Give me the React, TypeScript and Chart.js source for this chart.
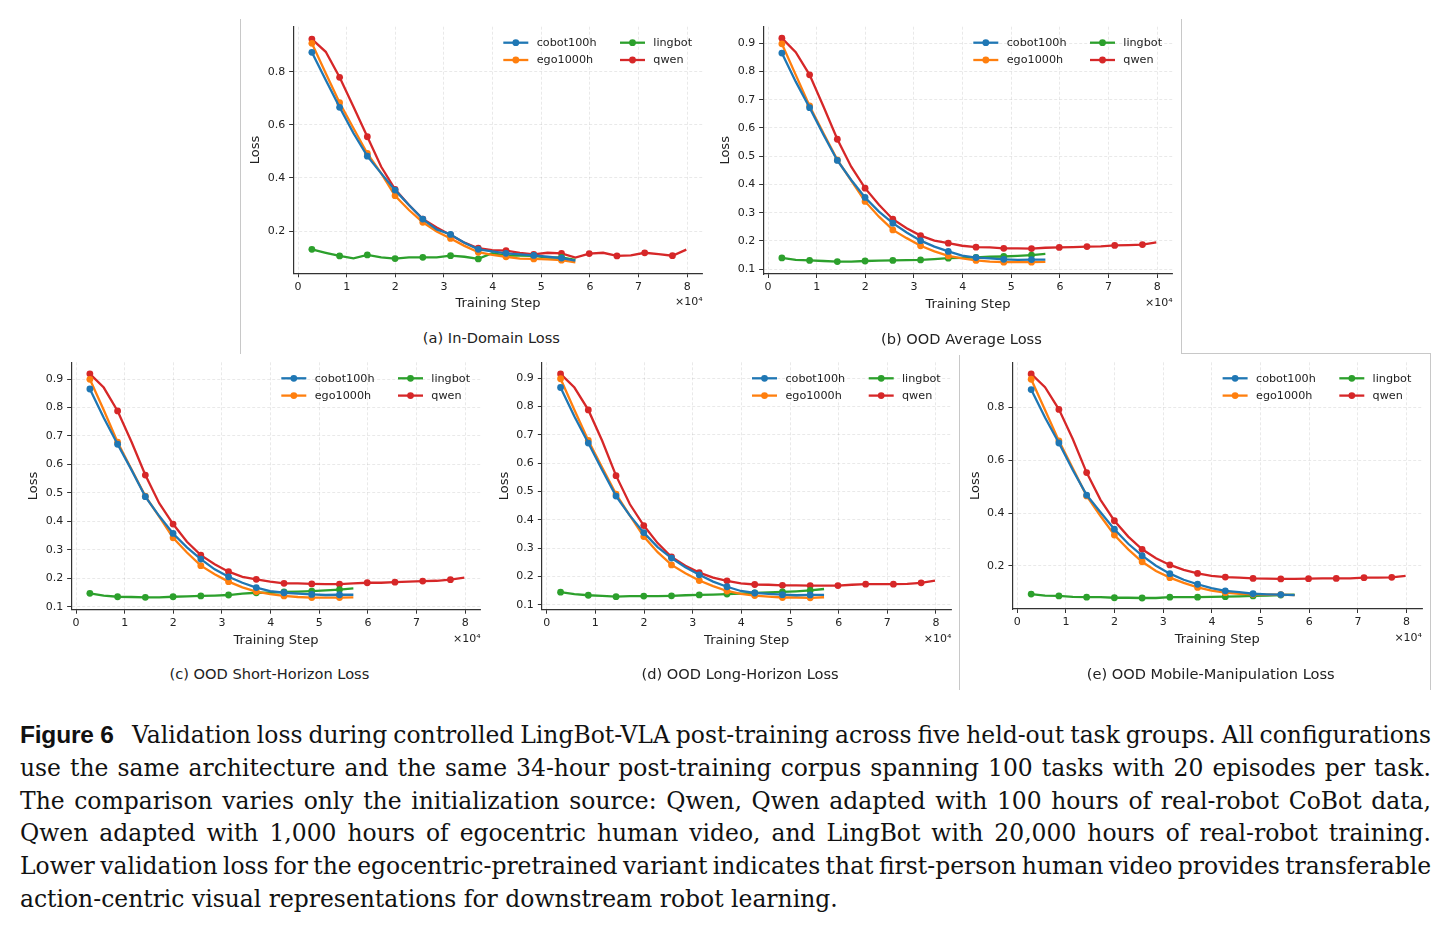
import React, { useEffect, useRef } from "react";
import { Chart, registerables } from "chart.js";

Chart.register(...registerables);

// ---------------- data ----------------
const STEPS = [
  2850, 5700, 8550, 11400, 14250, 17100, 19950, 22800, 25650, 28500,
  31350, 34200, 37050, 39900, 42750, 45600, 48450, 51300, 54150, 57000,
  59850, 62700, 65550, 68400, 71250, 74100, 76950, 79800,
];
const X_TICK_VALUES = [0, 10000, 20000, 30000, 40000, 50000, 60000, 70000, 80000];
const X_TICK_LABELS = ["0", "1", "2", "3", "4", "5", "6", "7", "8"];
const Y_TICKS_COARSE = [0.2, 0.4, 0.6, 0.8];
const Y_TICKS_FINE = [0.1, 0.2, 0.3, 0.4, 0.5, 0.6, 0.7, 0.8, 0.9];
const SERIES_NAMES = ["cobot100h", "ego1000h", "lingbot", "qwen"];

// (a) In-Domain
const A_COBOT = [0.873, 0.769, 0.666, 0.568, 0.482, 0.417, 0.354, 0.298, 0.245, 0.206, 0.187, 0.156, 0.131, 0.123, 0.116, 0.112, 0.108, 0.103, 0.098, 0.088];
const A_EGO = [0.907, 0.794, 0.683, 0.587, 0.492, 0.417, 0.333, 0.279, 0.233, 0.198, 0.172, 0.144, 0.120, 0.110, 0.103, 0.096, 0.095, 0.093, 0.090, 0.082];
const A_LINGBOT = [0.131, 0.118, 0.106, 0.097, 0.110, 0.101, 0.096, 0.101, 0.101, 0.101, 0.107, 0.103, 0.095, 0.116, 0.107, 0.107, 0.106, 0.100, 0.101, 0.091];
const A_QWEN = [0.923, 0.875, 0.779, 0.668, 0.555, 0.442, 0.357, 0.298, 0.245, 0.213, 0.185, 0.156, 0.135, 0.128, 0.126, 0.118, 0.112, 0.118, 0.116, 0.100, 0.115, 0.118, 0.106, 0.108, 0.118, 0.113, 0.107, 0.130];

// (b) OOD Average
const B_COBOT = [0.865, 0.764, 0.672, 0.576, 0.485, 0.416, 0.354, 0.304, 0.263, 0.230, 0.201, 0.180, 0.163, 0.148, 0.141, 0.138, 0.135, 0.133, 0.134, 0.134];
const B_EGO = [0.898, 0.788, 0.678, 0.581, 0.487, 0.414, 0.340, 0.286, 0.239, 0.210, 0.183, 0.163, 0.147, 0.138, 0.131, 0.127, 0.125, 0.125, 0.125, 0.126];
const B_LINGBOT = [0.140, 0.133, 0.131, 0.129, 0.127, 0.127, 0.129, 0.130, 0.131, 0.132, 0.133, 0.136, 0.139, 0.140, 0.142, 0.144, 0.145, 0.147, 0.150, 0.154];
const B_QWEN = [0.918, 0.868, 0.788, 0.676, 0.560, 0.463, 0.387, 0.328, 0.277, 0.245, 0.219, 0.201, 0.192, 0.183, 0.178, 0.177, 0.174, 0.174, 0.173, 0.176, 0.177, 0.178, 0.180, 0.181, 0.184, 0.185, 0.187, 0.195];

// (c) OOD Short-Horizon
const C_COBOT = [0.865, 0.764, 0.671, 0.581, 0.487, 0.419, 0.358, 0.309, 0.268, 0.232, 0.206, 0.185, 0.168, 0.156, 0.150, 0.147, 0.144, 0.142, 0.143, 0.143];
const C_EGO = [0.899, 0.791, 0.678, 0.583, 0.489, 0.417, 0.343, 0.291, 0.245, 0.215, 0.189, 0.169, 0.154, 0.145, 0.139, 0.135, 0.133, 0.133, 0.133, 0.134];
const C_LINGBOT = [0.148, 0.140, 0.136, 0.135, 0.134, 0.134, 0.136, 0.137, 0.139, 0.140, 0.142, 0.147, 0.150, 0.150, 0.153, 0.154, 0.156, 0.158, 0.161, 0.165];
const C_QWEN = [0.918, 0.870, 0.788, 0.680, 0.563, 0.464, 0.391, 0.329, 0.282, 0.250, 0.224, 0.206, 0.197, 0.189, 0.183, 0.183, 0.181, 0.180, 0.180, 0.183, 0.185, 0.185, 0.187, 0.189, 0.191, 0.192, 0.196, 0.203];

// (d) OOD Long-Horizon
const D_COBOT = [0.867, 0.765, 0.671, 0.576, 0.484, 0.415, 0.355, 0.304, 0.265, 0.233, 0.206, 0.182, 0.164, 0.149, 0.142, 0.139, 0.136, 0.134, 0.135, 0.135];
const D_EGO = [0.898, 0.788, 0.680, 0.585, 0.491, 0.415, 0.341, 0.286, 0.241, 0.212, 0.186, 0.166, 0.149, 0.139, 0.133, 0.129, 0.126, 0.126, 0.125, 0.127];
const D_LINGBOT = [0.145, 0.138, 0.134, 0.132, 0.129, 0.131, 0.131, 0.131, 0.132, 0.134, 0.135, 0.136, 0.138, 0.140, 0.142, 0.144, 0.146, 0.148, 0.151, 0.156];
const D_QWEN = [0.915, 0.867, 0.788, 0.679, 0.556, 0.455, 0.380, 0.318, 0.269, 0.238, 0.214, 0.196, 0.185, 0.176, 0.172, 0.171, 0.169, 0.169, 0.168, 0.168, 0.168, 0.171, 0.173, 0.173, 0.173, 0.174, 0.178, 0.186];

// (e) OOD Mobile-Manipulation
const E_COBOT = [0.867, 0.761, 0.665, 0.563, 0.468, 0.403, 0.339, 0.284, 0.239, 0.201, 0.171, 0.148, 0.131, 0.116, 0.106, 0.101, 0.095, 0.093, 0.092, 0.090];
const E_EGO = [0.906, 0.790, 0.673, 0.569, 0.465, 0.389, 0.317, 0.263, 0.216, 0.181, 0.156, 0.136, 0.119, 0.107, 0.099, 0.095, 0.093, 0.092, 0.092, 0.090];
const E_LINGBOT = [0.094, 0.088, 0.087, 0.083, 0.082, 0.082, 0.080, 0.080, 0.079, 0.079, 0.082, 0.082, 0.082, 0.083, 0.084, 0.085, 0.087, 0.088, 0.090, 0.092];
const E_QWEN = [0.926, 0.876, 0.792, 0.680, 0.553, 0.450, 0.371, 0.311, 0.263, 0.229, 0.204, 0.185, 0.172, 0.163, 0.158, 0.156, 0.153, 0.152, 0.151, 0.151, 0.152, 0.153, 0.153, 0.153, 0.156, 0.156, 0.157, 0.163];

const FIGURE_LABEL = "Figure 6";
const CAPTION_LINES = [
  "Validation loss during controlled LingBot-VLA post-training across five held-out task groups. All configurations",
  "use the same architecture and the same 34-hour post-training corpus spanning 100 tasks with 20 episodes per task.",
  "The comparison varies only the initialization source: Qwen, Qwen adapted with 100 hours of real-robot CoBot data,",
  "Qwen adapted with 1,000 hours of egocentric human video, and LingBot with 20,000 hours of real-robot training.",
  "Lower validation loss for the egocentric-pretrained variant indicates that first-person human video provides transferable",
  "action-centric visual representations for downstream robot learning.",
];

// ---------------- style / layout ----------------
const COLORS = ["#1f77b4", "#ff7f0e", "#2ca02c", "#d62728"];
const FONT = "'DejaVu Sans', sans-serif";
const TEXT = "#222222";
const X_MIN = -1000;
const X_MAX = 83170;
const PX_PER_STEP = 48.66 / 10000;

type PanelDef = {
  caption: string;
  x0: number;
  top: number;
  bottom: number;
  yMin: number;
  yMax: number;
  yTicks: number[];
  series: number[][];
};

const PANELS: PanelDef[] = [
  { caption: "(a) In-Domain Loss", x0: 298.0, top: 26.7, bottom: 273.3, yMin: 0.0407, yMax: 0.9695, yTicks: Y_TICKS_COARSE, series: [A_COBOT, A_EGO, A_LINGBOT, A_QWEN] },
  { caption: "(b) OOD Average Loss", x0: 768.0, top: 26.7, bottom: 274.0, yMin: 0.083, yMax: 0.9585, yTicks: Y_TICKS_FINE, series: [B_COBOT, B_EGO, B_LINGBOT, B_QWEN] },
  { caption: "(c) OOD Short-Horizon Loss", x0: 76.0, top: 362.3, bottom: 609.7, yMin: 0.0905, yMax: 0.9586, yTicks: Y_TICKS_FINE, series: [C_COBOT, C_EGO, C_LINGBOT, C_QWEN] },
  { caption: "(d) OOD Long-Horizon Loss", x0: 546.7, top: 362.3, bottom: 609.7, yMin: 0.083, yMax: 0.956, yTicks: Y_TICKS_FINE, series: [D_COBOT, D_EGO, D_LINGBOT, D_QWEN] },
  { caption: "(e) OOD Mobile-Manipulation Loss", x0: 1017.3, top: 362.3, bottom: 609.0, yMin: 0.0374, yMax: 0.970, yTicks: Y_TICKS_COARSE, series: [E_COBOT, E_EGO, E_LINGBOT, E_QWEN] },
];

const LINE_W = 2.3;
const MARK_R = 3.4;

const mplLegend = {
  id: "mplLegend",
  afterDraw(chart: any) {
    const { ctx, chartArea } = chart;
    const r = chartArea.right;
    const t = chartArea.top;
    const cols = [
      { line: r - 199.4, text: r - 166 },
      { line: r - 82.7, text: r - 49.4 },
    ];
    const rows = [t + 16, t + 33.3];
    ctx.save();
    chart.data.datasets.forEach((ds: any, i: number) => {
      const c = cols[Math.floor(i / 2)];
      const y = rows[i % 2];
      ctx.strokeStyle = ds.borderColor;
      ctx.lineWidth = LINE_W;
      ctx.beginPath();
      ctx.moveTo(c.line, y);
      ctx.lineTo(c.line + 25, y);
      ctx.stroke();
      ctx.fillStyle = ds.borderColor;
      ctx.beginPath();
      ctx.arc(c.line + 12.5, y, MARK_R, 0, Math.PI * 2);
      ctx.fill();
      ctx.fillStyle = TEXT;
      ctx.font = `11.2px ${FONT}`;
      ctx.textAlign = "left";
      ctx.textBaseline = "middle";
      ctx.fillText(ds.label, c.text, y + 0.5);
    });
    ctx.font = `11px ${FONT}`;
    ctx.textAlign = "right";
    ctx.textBaseline = "middle";
    ctx.fillStyle = TEXT;
    ctx.fillText("×10⁴", r, chartArea.bottom + 29);
    ctx.restore();
  },
};

function Panel({ def }: { def: PanelDef }) {
  const ref = useRef<HTMLCanvasElement | null>(null);
  const axL = def.x0 + X_MIN * PX_PER_STEP;
  const axR = def.x0 + X_MAX * PX_PER_STEP;
  const cLeft = Math.floor(axL - 62);
  const cTop = Math.floor(def.top - 18);
  const cRight = Math.ceil(axR + 12);
  const cBottom = Math.ceil(def.bottom + 46);
  const width = cRight - cLeft;
  const height = cBottom - cTop;

  useEffect(() => {
    if (!ref.current) return;
    const yW = axL - cLeft;
    const padTop = def.top - cTop;
    const padRight = cRight - axR;
    const xH = cBottom - def.bottom;
    const titleLH = 13 * 1.2;
    const yTitlePad = axL - 37.2 - cLeft - titleLH / 2;
    const xTitlePad = cBottom - (def.bottom + 30.5) - titleLH / 2;

    const datasets = def.series.map((vals, si) => ({
      label: SERIES_NAMES[si],
      data: vals.map((v, i) => ({ x: STEPS[i], y: v })),
      borderColor: COLORS[si],
      backgroundColor: COLORS[si],
      pointBackgroundColor: COLORS[si],
      pointBorderWidth: 0,
      pointRadius: vals.map((_, i) => (i % 2 === 0 ? MARK_R : 0)),
      pointHoverRadius: 0,
      borderWidth: LINE_W,
      tension: 0,
      fill: false,
    }));

    const grid = {
      color: "rgba(0,0,0,0.11)",
      lineWidth: 0.8,
      tickColor: "#333333",
      tickLength: 4,
      tickWidth: 1,
    };

    const chart = new Chart(ref.current, {
      type: "line",
      data: { datasets },
      options: {
        responsive: false,
        animation: false,
        events: [],
        layout: { padding: { left: 0, top: padTop, right: padRight, bottom: 0 } },
        plugins: { legend: { display: false }, tooltip: { enabled: false } },
        scales: {
          x: {
            type: "linear",
            min: X_MIN,
            max: X_MAX,
            afterBuildTicks: (s: any) => {
              s.ticks = X_TICK_VALUES.map((v) => ({ value: v }));
            },
            afterFit: (s: any) => {
              s.height = xH;
            },
            ticks: {
              autoSkip: false,
              maxRotation: 0,
              padding: 3,
              color: TEXT,
              font: { family: FONT, size: 11 },
              callback: (v: any) => X_TICK_LABELS[X_TICK_VALUES.indexOf(Number(v))],
            },
            grid,
            border: { display: true, color: "#333333", width: 1.2, dash: [3, 2] },
            title: {
              display: true,
              text: "Training Step",
              color: TEXT,
              font: { family: FONT, size: 13 },
              padding: { top: 0, bottom: xTitlePad },
            },
          },
          y: {
            type: "linear",
            min: def.yMin,
            max: def.yMax,
            afterBuildTicks: (s: any) => {
              s.ticks = def.yTicks.map((v) => ({ value: v }));
            },
            afterFit: (s: any) => {
              s.width = yW;
            },
            ticks: {
              padding: 4,
              color: TEXT,
              font: { family: FONT, size: 11 },
              callback: (v: any) => Number(v).toFixed(1),
            },
            grid,
            border: { display: true, color: "#333333", width: 1.2, dash: [3, 2] },
            title: {
              display: true,
              text: "Loss",
              color: TEXT,
              font: { family: FONT, size: 13 },
              padding: { top: yTitlePad, bottom: 0 },
            },
          },
        },
      } as any,
      plugins: [mplLegend],
    });
    return () => chart.destroy();
  }, []);

  const cx = (axL + axR) / 2 - 6.5;
  return (
    <>
      <canvas
        ref={ref}
        width={width}
        height={height}
        style={{ position: "absolute", left: cLeft, top: cTop, width, height }}
      />
      <div
        style={{
          position: "absolute",
          left: cx - 200,
          width: 400,
          top: def.bottom + 64.5 - 10,
          height: 20,
          lineHeight: "20px",
          textAlign: "center",
          fontFamily: FONT,
          fontSize: 14.6,
          color: TEXT,
        }}
      >
        {def.caption}
      </div>
    </>
  );
}

const BORDER = "#c8c8c8";
const borderLines = [
  { left: 240, top: 19, width: 1, height: 335 },
  { left: 1181, top: 19, width: 1, height: 335 },
  { left: 1181, top: 353, width: 250, height: 1 },
  { left: 959, top: 355, width: 1, height: 335 },
  { left: 1430, top: 353, width: 1, height: 337 },
];

const CAP_FONT_FAMILY = "'DejaVu Serif', serif";
const CAP_FONT_SIZE = 23.45;
const CAP_LEFT = 20;
const CAP_WIDTH = 1411;
const LABEL_BOX = 112;

let measureCtx: CanvasRenderingContext2D | null = null;
function measure(text: string, font: string): number {
  if (!measureCtx) measureCtx = document.createElement("canvas").getContext("2d");
  if (!measureCtx) return 0;
  measureCtx.font = font;
  return measureCtx.measureText(text).width;
}

export default function App() {
  const lineCenters = [735, 768, 800.5, 833, 866, 898.5];
  const capFont = `${CAP_FONT_SIZE}px ${CAP_FONT_FAMILY}`;
  return (
    <div
      style={{
        position: "absolute",
        left: 0,
        top: 0,
        width: 1451,
        height: 928,
        background: "#ffffff",
        overflow: "hidden",
      }}
    >
      {borderLines.map((b, i) => (
        <div key={i} style={{ position: "absolute", background: BORDER, ...b }} />
      ))}
      {PANELS.map((p, i) => (
        <Panel key={i} def={p} />
      ))}
      {CAPTION_LINES.map((line, i) => {
        const last = i === CAPTION_LINES.length - 1;
        const avail = CAP_WIDTH - (i === 0 ? LABEL_BOX : 0);
        const spaces = (line.match(/ /g) || []).length;
        const natural = measure(line, capFont);
        const ws = last || spaces === 0 ? 0 : (avail - natural) / spaces;
        return (
          <div
            key={i}
            style={{
              position: "absolute",
              left: CAP_LEFT,
              width: CAP_WIDTH + 40,
              top: lineCenters[i] - 16,
              height: 32,
              lineHeight: "32px",
              fontFamily: CAP_FONT_FAMILY,
              fontSize: CAP_FONT_SIZE,
              color: "#111",
              whiteSpace: "pre",
            }}
          >
            {i === 0 && (
              <span
                style={{
                  display: "inline-block",
                  width: LABEL_BOX,
                  fontFamily: "'Liberation Sans', sans-serif",
                  fontWeight: 700,
                  fontSize: 24.5,
                  letterSpacing: -0.2,
                  color: "#111",
                }}
              >
                {FIGURE_LABEL}
              </span>
            )}
            <span style={{ wordSpacing: ws }}>{line}</span>
          </div>
        );
      })}
    </div>
  );
}
